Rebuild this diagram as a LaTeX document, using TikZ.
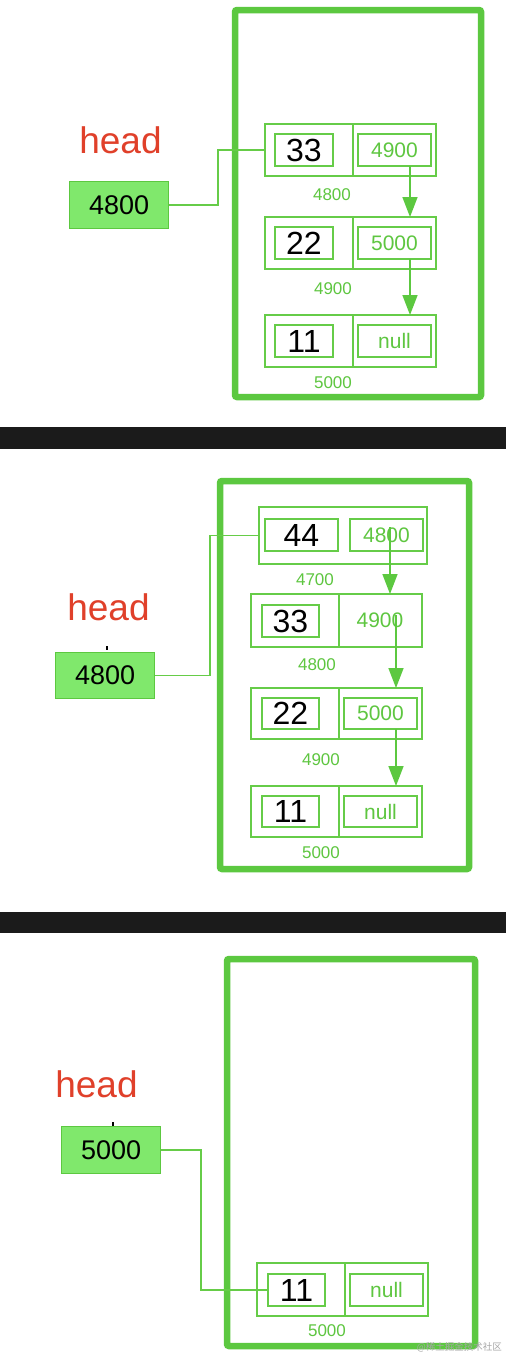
\documentclass[tikz,border=0pt]{standalone}
\usepackage{fontspec}
\setmainfont{Liberation Sans}
\newfontfamily\cjkfont{Noto Sans CJK SC}
\usetikzlibrary{arrows.meta}
\definecolor{frameg}{HTML}{5CC840}
\definecolor{lineg}{HTML}{66CC48}
\definecolor{fillg}{HTML}{80E86C}
\definecolor{textg}{HTML}{5EC640}
\definecolor{headred}{HTML}{E0402A}
\definecolor{barblk}{HTML}{1B1B1B}
\tikzset{
  frame/.style={draw=frameg, line width=6.5pt, rounded corners=2pt},
  cell/.style={draw=lineg, line width=1.3pt, rectangle, inner sep=0pt, outer sep=0pt, anchor=north west},
  valbox/.style={cell, text=black, font=\fontsize{32}{32}\selectfont},
  ptrbox/.style={cell, text=textg, font=\fontsize{21}{21}\selectfont},
  ptrtxt/.style={text=textg, font=\fontsize{21}{21}\selectfont, inner sep=0pt},
  addr/.style={text=textg, font=\fontsize{17}{17}\selectfont, inner sep=0pt},
  headlbl/.style={text=headred, font=\fontsize{37}{37}\selectfont, anchor=base, inner sep=0pt},
  headbox/.style={draw=frameg, fill=fillg, line width=1.1pt, rectangle, inner sep=0pt, anchor=north west, minimum width=99pt, font=\fontsize{27}{27}\selectfont},
  conn/.style={draw=lineg, line width=1.3pt},
  ptr/.style={draw=frameg, line width=1.5pt, -{Triangle[length=20pt,width=15pt]}},
  tickmark/.style={draw=black, line width=1.6pt},
  bar/.style={fill=barblk, draw=none}
}
\begin{document}
\begin{tikzpicture}[x=1pt,y=-1pt]
\useasboundingbox (0,0) rectangle (506,1358);
\fill[white] (0,0) rectangle (506,1358);
% separator bars
\path[bar] (0,427) rectangle (506,449);
\path[bar] (0,912) rectangle (506,933);

% ================= Panel 1 =================
\draw[frame] (235,10) rectangle (481,397);
\node[headlbl] (h1) at (120.5,153) {head};
\node[headbox, minimum height=47pt] (b1) at (69,181) {4800};
% node 33
\node[cell, minimum width=171pt, minimum height=52pt] (n1) at (265,124) {};
\draw[conn] (353,124) -- (353,176);
\node[valbox, minimum width=58pt, minimum height=32pt] (n1a) at (275,134) {33};
\node[ptrbox, minimum width=73pt, minimum height=32pt] (n1b) at (358,134) {4900};
\node[addr] (l1) at (332,195) {4800};
% node 22
\node[cell, minimum width=171pt, minimum height=52pt] (n2) at (265,217) {};
\draw[conn] (353,217) -- (353,269);
\node[valbox, minimum width=58pt, minimum height=32pt] (n2a) at (275,227) {22};
\node[ptrbox, minimum width=73pt, minimum height=32pt] (n2b) at (358,227) {5000};
\node[addr] (l2) at (333,289) {4900};
% node 11
\node[cell, minimum width=171pt, minimum height=52pt] (n3) at (265,315) {};
\draw[conn] (353,315) -- (353,367);
\node[valbox, minimum width=58pt, minimum height=32pt] (n3a) at (275,325) {11};
\node[ptrbox, minimum width=73pt, minimum height=32pt] (n3b) at (358,325) {null};
\node[addr] (l3) at (333,383) {5000};
% connectors
\draw[conn] (b1.east) -- ++(49,0) |- (n1.west);
\draw[ptr] ([xshift=15.5pt]n1b.south) -- ([xshift=15.5pt]n1b.south |- n2.north);
\draw[ptr] ([xshift=15.5pt]n2b.south) -- ([xshift=15.5pt]n2b.south |- n3.north);

% ================= Panel 2 =================
\draw[frame] (220,481) rectangle (469,869);
\node[headlbl] (h2) at (108.5,620) {head};
\draw[tickmark] (107,646) -- (107,650);
\node[headbox, minimum height=46pt] (b2) at (55,652) {4800};
% node 44
\node[cell, minimum width=168pt, minimum height=57pt] (m1) at (259,507) {};
\node[valbox, minimum width=73pt, minimum height=32pt] (m1a) at (265,519) {44};
\node[ptrbox, minimum width=73pt, minimum height=32pt] (m1b) at (350,519) {4800};
\node[addr] (k1) at (315,580) {4700};
% node 33
\node[cell, minimum width=171pt, minimum height=53pt] (m2) at (251,594) {};
\draw[conn] (339,594) -- (339,647);
\node[valbox, minimum width=57pt, minimum height=32pt] (m2a) at (262,605) {33};
\node[ptrtxt] (m2b) at (380,620) {4900};
\node[addr] (k2) at (317,665) {4800};
% node 22
\node[cell, minimum width=171pt, minimum height=51pt] (m3) at (251,688) {};
\draw[conn] (339,688) -- (339,739);
\node[valbox, minimum width=57pt, minimum height=31pt] (m3a) at (262,698) {22};
\node[ptrbox, minimum width=73pt, minimum height=31pt] (m3b) at (344,698) {5000};
\node[addr] (k3) at (321,760) {4900};
% node 11
\node[cell, minimum width=171pt, minimum height=51pt] (m4) at (251,786) {};
\draw[conn] (339,786) -- (339,837);
\node[valbox, minimum width=57pt, minimum height=31pt] (m4a) at (262,796) {11};
\node[ptrbox, minimum width=73pt, minimum height=31pt] (m4b) at (344,796) {null};
\node[addr] (k4) at (321,853) {5000};
% connectors
\draw[conn] (b2.east) -- ++(55,0) |- (m1.west);
\draw[ptr] ([xshift=3.5pt,yshift=8pt]m1b.center) -- ([xshift=3.5pt]m1b.center |- m2.north);
\draw[ptr] ([xshift=16pt,yshift=5pt]m2b.center) -- ([xshift=16pt]m2b.center |- m3.north);
\draw[ptr] ([xshift=15.5pt]m3b.south) -- ([xshift=15.5pt]m3b.south |- m4.north);

% ================= Panel 3 =================
\draw[frame] (227,959) rectangle (475,1346);
\node[headlbl] (h3) at (96.5,1097) {head};
\draw[tickmark] (113,1122) -- (113,1126);
\node[headbox, minimum height=47pt] (b3) at (61,1126) {5000};
% node 11
\node[cell, minimum width=171pt, minimum height=53pt] (p1) at (257,1263) {};
\draw[conn] (345,1263) -- (345,1316);
\node[valbox, minimum width=57pt, minimum height=32pt] (p1a) at (268,1274) {11};
\node[ptrbox, minimum width=73pt, minimum height=32pt] (p1b) at (350,1274) {null};
\node[addr] (q1) at (327,1331) {5000};
\draw[conn] (b3.east) -- ++(40,0) |- (p1a.west);

% watermark
\node[anchor=east, inner sep=0pt, text=black!35, font=\cjkfont\fontsize{9.5}{9.5}\selectfont] (wm) at (502,1347) {@稀土掘金技术社区};
\end{tikzpicture}
\end{document}
